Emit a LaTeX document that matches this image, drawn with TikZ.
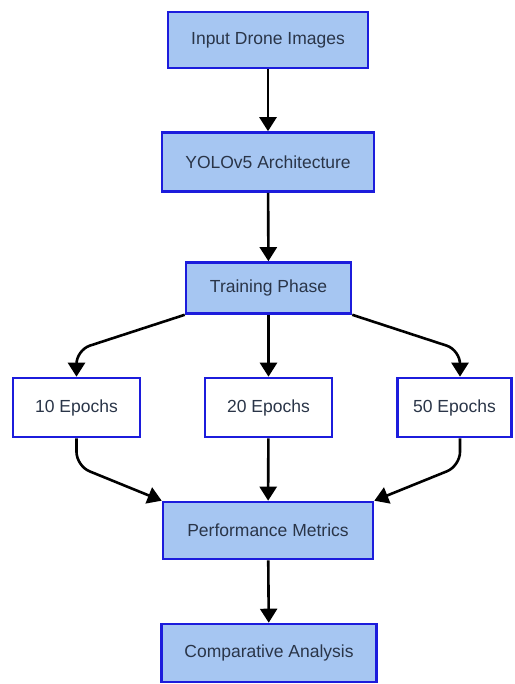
\documentclass[tikz,border=0pt]{standalone}
\usepackage{fontspec}
\setmainfont{Liberation Sans}
\usetikzlibrary{arrows.meta}
\definecolor{boxfill}{HTML}{A6C6F2}
\definecolor{boxline}{HTML}{1C1CDC}
\definecolor{txt}{HTML}{2A3548}
\tikzset{
  bluebox/.style={draw=boxline, fill=boxfill, line width=2.6pt, inner sep=0pt, text=txt, font=\fontsize{17.5}{20}\selectfont},
  whitebox/.style={draw=boxline, fill=white, line width=2.6pt, inner sep=0pt, text=txt, font=\fontsize{17.5}{20}\selectfont},
  flow/.style={line width=2.6pt, black, -{Triangle[width=17pt,length=14pt]}},
}
\begin{document}
\begin{tikzpicture}[x=1pt,y=-1pt]
\useasboundingbox (0,0) rectangle (514,684);
\node[bluebox, minimum width=200pt, minimum height=56pt] (inp) at (268,40) {Input Drone Images};
\node[bluebox, minimum width=212pt, minimum height=59pt] (yolo) at (268,162) {YOLOv5 Architecture};
\node[bluebox, minimum width=165pt, minimum height=51pt] (train) at (268.5,288) {Training Phase};
\node[whitebox, minimum width=127pt, minimum height=59pt] (e10) at (76.5,407.5) {10 Epochs};
\node[whitebox, minimum width=127pt, minimum height=59pt] (e20) at (268.5,407.5) {20 Epochs};
\node[whitebox, minimum width=114pt, minimum height=59pt] (e50) at (454.5,407.5) {50 Epochs};
\node[bluebox, minimum width=210pt, minimum height=57pt] (perf) at (268,530.5) {Performance Metrics};
\node[bluebox, minimum width=215pt, minimum height=58pt] (comp) at (269,653) {Comparative Analysis};
\coordinate (b10) at (76.5,350);
\coordinate (b50) at (460,350);
\coordinate (c10) at (76.5,466);
\coordinate (c50) at (460,466);
\draw[flow] (inp) -- (yolo);
\draw[flow] (yolo) -- (train);
\draw[flow] (train) -- (e20);
\draw[flow, rounded corners=14pt] (train.south west) -- (b10) -- (e10.north);
\draw[flow, rounded corners=14pt] (train.south east) -- (b50) -- (b50 |- e50.north);
\draw[flow, rounded corners=14pt] (e10.south) -- (c10) -- (perf.north west);
\draw[flow, rounded corners=14pt] (c50 |- e50.south) -- (c50) -- (perf.north east);
\draw[flow] (e20) -- (perf);
\draw[flow] (perf) -- (comp);
\end{tikzpicture}
\end{document}
